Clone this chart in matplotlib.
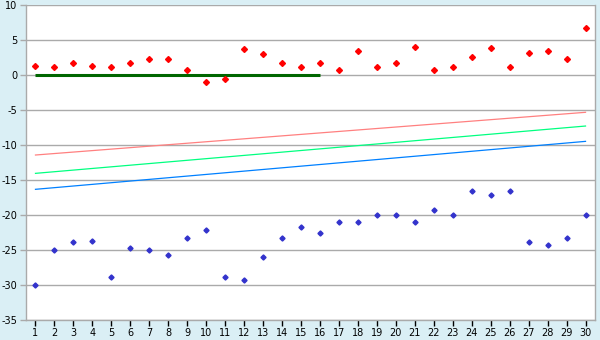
import matplotlib
matplotlib.use("Agg")
import matplotlib.pyplot as plt
import numpy as np

x_cats = list(range(1, 31))
red_vals = [1.24, 1.1, 1.67, 1.24, 1.1, 1.67, 2.24, 2.24, 0.67, -1.05,
            -0.62, 3.67, 2.95, 1.67, 1.1, 1.67, 0.67, 3.38, 1.1, 1.67,
            3.95, 0.67, 1.1, 2.52, 3.81, 1.1, 3.1, 3.38, 2.24, 6.67]
blue_vals = [-30.0, -25.05, -23.9, -23.67, -28.9, -24.76, -25.05, -25.76, -23.3, -22.2,
             -28.9, -29.33, -26.05, -23.33, -21.76, -22.6, -21.05, -21.05, -20.05, -20.05,
             -21.05, -19.33, -20.05, -16.62, -17.19, -16.62, -23.9, -24.33, -23.3, -20.05]
zero_line_x = [1, 16]
zero_line_y = [0, 0]
pink_ends = [-11.43, -5.33]
green_ends = [-14.05, -7.29]
blue_ends = [-16.33, -9.48]
line_x = [1, 30]
y_ticks = list(range(-35, 11, 5))

bg = '#daeff5'
fig = plt.figure(figsize=(6, 3.4), dpi=100, facecolor=bg)
ax = fig.add_axes([26/600, 1-320/340, (595-26)/600, (320-5)/340])
ax.set_facecolor('white')

for yt in y_ticks:
    ax.axhline(yt, color='#aaaaaa', lw=1.0, zorder=1)

ax.plot(line_x, pink_ends, color='#ff8080', lw=0.9, zorder=2)
ax.plot(line_x, green_ends, color='#00ff80', lw=0.9, zorder=2)
ax.plot(line_x, blue_ends, color='#0080ff', lw=0.9, zorder=2)
ax.plot(zero_line_x, zero_line_y, color='#006600', lw=2.2, zorder=3, solid_capstyle='butt')
ax.plot(x_cats, red_vals, linestyle='none', marker='D', ms=3.0, color='#ff0000', zorder=4)
ax.plot(x_cats, blue_vals, linestyle='none', marker='D', ms=2.6, color='#3333cc', zorder=4)

ax.set_xlim(0.5, 30.5)
ax.set_ylim(-35, 10)
ax.set_xticks(x_cats)
ax.set_xticklabels([str(v) for v in x_cats])
ax.set_yticks(y_ticks)
ax.set_yticklabels([str(v) for v in y_ticks])
ax.tick_params(axis='both', labelsize=7, colors='black', length=4, width=1, pad=2)
ax.tick_params(axis='x', color='black')
ax.tick_params(axis='y', color='#aaaaaa', labelcolor='black')
ax.spines['top'].set_visible(False)
ax.spines['left'].set_color('#aaaaaa')
ax.spines['right'].set_color('#aaaaaa')
ax.spines['bottom'].set_color('#aaaaaa')
for s in ax.spines.values():
    s.set_linewidth(1.0)

fig.savefig('out.png', dpi=100, facecolor=bg)
